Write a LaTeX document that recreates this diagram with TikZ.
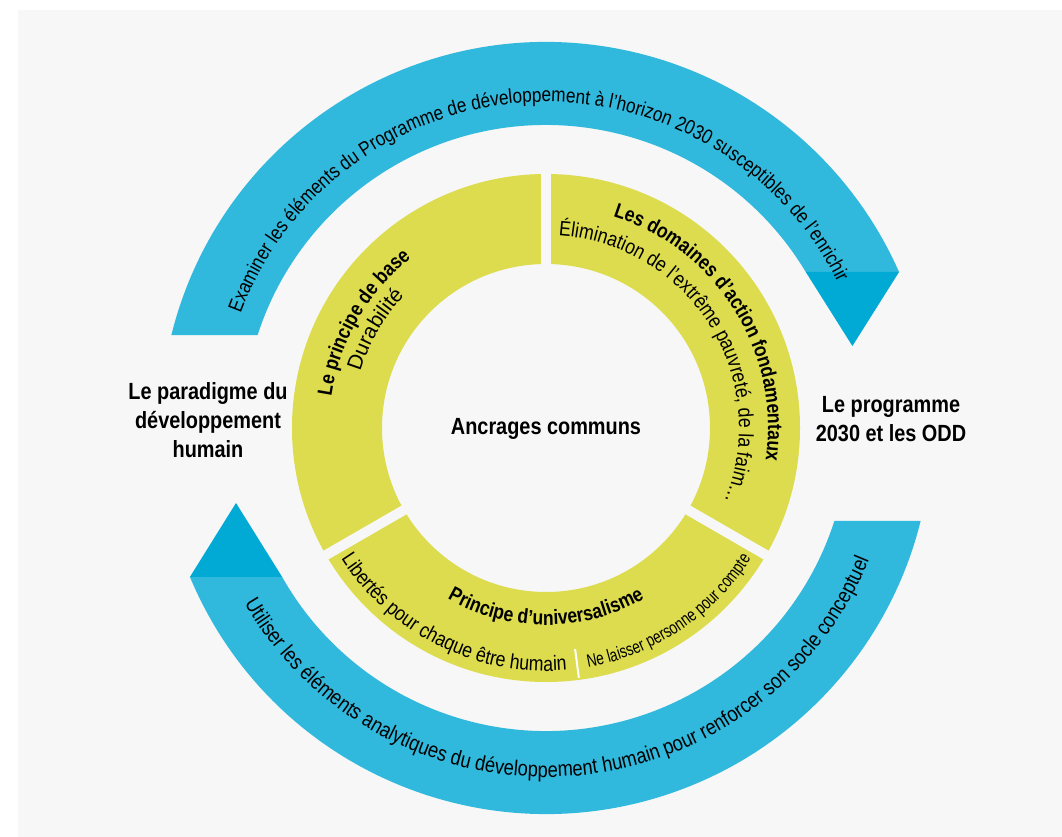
\documentclass[tikz,border=0pt]{standalone}
\usepackage{fontspec}
\setmainfont{Liberation Sans}[FakeStretch=0.85]
\newfontfamily\narrowfont{Liberation Sans}[FakeStretch=0.76]
\newfontfamily\widefont{Liberation Sans}
\usetikzlibrary{decorations.text}
\definecolor{bg}{HTML}{F7F7F7}
\definecolor{ringyellow}{HTML}{DCDC4E}
\definecolor{arcblue}{HTML}{31B9DD}
\definecolor{tipblue}{HTML}{00AAD4}
\begin{document}
\begin{tikzpicture}[x=1pt,y=1pt,
  sidelabel/.style={font=\bfseries\fontsize{23.4}{29}\selectfont, align=center, text=black, inner sep=0pt},
  gapline/.style={bg, line width=10pt}]
\useasboundingbox (-546,-409) rectangle (516,428);
\fill[white] (-546,-409) rectangle (516,428);
\fill[bg] (-528,-409) rectangle (516,418);

% top blue arc with arrow tip
\fill[arcblue] (166.07:386pt) arc[start angle=166.07,end angle=23.84,radius=386pt]
  -- (30.99:303pt) arc[start angle=30.99,end angle=162.13,radius=303pt] -- cycle;
\coordinate (toptip) at (306.4,82);
\fill[tipblue] (23.84:386pt) -- (30.99:303pt) -- (toptip) -- cycle;

% bottom blue arc with arrow tip
\fill[arcblue] (202.7:386pt) arc[start angle=202.7,end angle=346.07,radius=386pt]
  -- (342.13:303pt) arc[start angle=342.13,end angle=209.45,radius=303pt] -- cycle;
\coordinate (bottip) at (-310,-75);
\fill[tipblue] (202.7:386pt) -- (209.45:303pt) -- (bottip) -- cycle;

% texts on blue arcs
\path[decorate,decoration={text along path,text align=center,
  text={|\fontsize{20.2}{22}\selectfont|Examiner les éléments du Programme de développement à l’horizon 2030 susceptibles de l’enrichir}}]
  (166:326pt) arc[start angle=166,end angle=20,radius=326pt];
\path[decorate,decoration={text along path,text align=center,
  text={|\fontsize{21.5}{24}\selectfont|Utiliser les éléments analytiques du développement humain pour renforcer son socle conceptuel}}]
  (199:349pt) arc[start angle=199,end angle=349,radius=349pt];

% yellow ring
\fill[ringyellow,even odd rule] (0,0) circle[radius=254pt] (0,0) circle[radius=164pt];
\draw[gapline] (90:150pt) -- (90:265pt);
\draw[gapline] (210:150pt) -- (210:265pt);
\draw[gapline] (330:150pt) -- (330:265pt);
\draw[white,line width=2pt] (277.5:223pt) -- (277.5:252pt);

% left segment texts
\path[decorate,decoration={text along path,text align=center,
  text={|\bfseries\fontsize{20.6}{24}\selectfont|Le principe de base}}]
  (205:217pt) arc[start angle=205,end angle=95,radius=217pt];
\path[decorate,decoration={text along path,text align=center,
  text={|\widefont\fontsize{21}{24}\selectfont|Durabilité}}]
  (205:194pt) arc[start angle=205,end angle=95,radius=194pt];

% right segment texts
\path[decorate,decoration={text along path,text align=center,
  text={|\bfseries\fontsize{20.6}{24}\selectfont|Les domaines d’action fondamentaux}}]
  (112:222pt) arc[start angle=112,end angle=-48,radius=222pt];
\path[decorate,decoration={text along path,text align=center,
  text={|\fontsize{20.8}{24}\selectfont|Élimination de l’extrême pauvreté, de la faim…}}]
  (112:193pt) arc[start angle=112,end angle=-48,radius=193pt];

% bottom segment texts
\path[decorate,decoration={text along path,text align=center,
  text={|\bfseries\fontsize{20.6}{24}\selectfont|Principe d’universalisme}}]
  (215:197pt) arc[start angle=215,end angle=325,radius=197pt];
\path[decorate,decoration={text along path,text align=center,
  text={|\fontsize{20.8}{24}\selectfont|Libertés pour chaque être humain}}]
  (198.75:243pt) arc[start angle=198.75,end angle=288.75,radius=243pt];
\path[decorate,decoration={text along path,text align=center,
  text={|\narrowfont\fontsize{18}{22}\selectfont|Ne laisser personne pour compte}}]
  (258.7:243pt) arc[start angle=258.7,end angle=348.7,radius=243pt];

% labels
\node[sidelabel, anchor=base] (center) at (0,-7) {Ancrages communs};
\node[sidelabel] (left) at (-338,7.5) {Le paradigme du\\développement\\humain};
\node[sidelabel] (right) at (345,9) {Le programme\\2030 et les ODD};
\end{tikzpicture}
\end{document}
